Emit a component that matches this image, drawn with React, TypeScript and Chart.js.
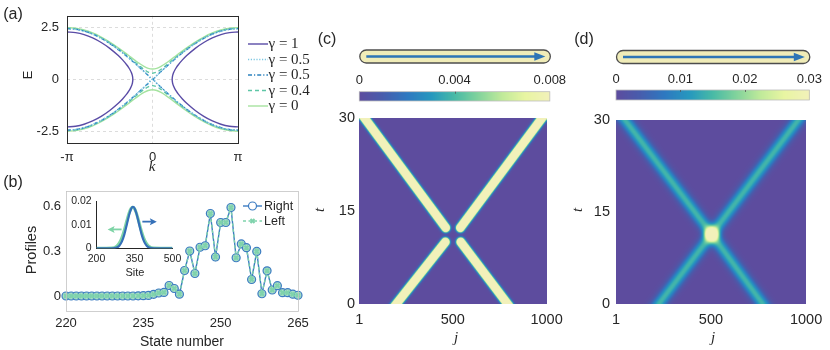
import React, { useEffect, useRef } from "react";
import { Chart, registerables } from "chart.js";
Chart.register(...registerables);

const SANS = "'Liberation Sans', Arial, Helvetica, sans-serif";
const SERIF = "'Liberation Serif', 'DejaVu Serif', 'Times New Roman', serif";
const INK = "#262626";
Chart.defaults.font.family = SANS;
Chart.defaults.color = INK;

// ---------------- Panel (a): band structure, k in units of pi ----------------
const K_HALF = [0, 0.05, 0.1, 0.15, 0.2, 0.25, 0.3, 0.4, 0.5, 0.6, 0.7, 0.8, 0.9, 1.0];
const E_G0 = [0.5, 0.536, 0.63, 0.76, 0.907, 1.062, 1.219, 1.524, 1.803, 2.044, 2.239, 2.383, 2.47, 2.5];
const E_G05 = [0, 0.192, 0.383, 0.572, 0.757, 0.937, 1.112, 1.44, 1.732, 1.982, 2.182, 2.33, 2.419, 2.449];
const E_G04 = [0.3, 0.356, 0.487, 0.646, 0.814, 0.984, 1.152, 1.471, 1.758, 2.004, 2.203, 2.349, 2.438, 2.468];
const K_G1 = [0.2301, 0.235, 0.24, 0.25, 0.26, 0.28, 0.3, 0.35, 0.4, 0.5, 0.6, 0.7, 0.8, 0.9, 1.0];
const E_G1 = [0, 0.176, 0.251, 0.359, 0.443, 0.581, 0.698, 0.942, 1.15, 1.5, 1.782, 2.003, 2.163, 2.259, 2.291];
const GAMMA_LABELS = ["γ = 1", "γ = 0.5", "γ = 0.5", "γ = 0.4", "γ = 0"];
const A_X_TICKS = [-1, 0, 1];
const A_X_LABELS = ["-π", "0", "π"];
const A_Y_TICKS = [-2.5, 0, 2.5];
const A_Y_LABELS = ["-2.5", "0", "2.5"];
const A_Y_LIMIT = 3.07;

const A_COLORS = ["#5A4CA6", "#7CC6E2", "#2E83BE", "#5EC6A6", "#A6E3A0"];
const A_DASHES = [[], [1.2, 1.6], [4, 2, 1.2, 2], [4, 3], []];

// ---------------- Panel (b): profiles ----------------
const STATE_NUMBER = [220, 221, 222, 223, 224, 225, 226, 227, 228, 229, 230, 231, 232, 233, 234, 235, 236, 237, 238, 239, 240, 241, 242, 243, 244, 245, 246, 247, 248, 249, 250, 251, 252, 253, 254, 255, 256, 257, 258, 259, 260, 261, 262, 263, 264, 265];
const PROFILE_RIGHT = [0, 0, 0, 0, 0, 0, 0, 0, 0, 0, 0, 0, 0, 0, 0.001, 0.002, 0.004, 0.011, 0.02, 0.024, 0.07, 0.05, 0.012, 0.17, 0.3, 0.15, 0.325, 0.335, 0.55, 0.26, 0.49, 0.49, 0.59, 0.255, 0.347, 0.322, 0.11, 0.297, 0.015, 0.168, 0.04, 0.069, 0.022, 0.022, 0.012, 0.005];
const PROFILE_LEFT = [0, 0, 0, 0, 0, 0, 0, 0, 0, 0, 0, 0, 0, 0, 0.001, 0.002, 0.004, 0.011, 0.02, 0.024, 0.07, 0.05, 0.012, 0.17, 0.3, 0.15, 0.325, 0.335, 0.55, 0.26, 0.49, 0.49, 0.59, 0.255, 0.347, 0.322, 0.11, 0.297, 0.015, 0.168, 0.04, 0.069, 0.022, 0.022, 0.012, 0.005];
const B_X_TICKS = [220, 235, 250, 265];
const B_Y_TICKS = [0, 0.3, 0.6];
const B_Y_LABELS = ["0", "0.3", "0.6"];
const B_SERIES = ["Right", "Left"];

// inset
const SITE_BLUE = [200, 260, 280, 290, 300, 310, 320, 330, 337, 344, 351, 358, 368, 378, 388, 398, 408, 428, 500];
const VAL_BLUE = [0, 0.00002, 0.00037, 0.00112, 0.00282, 0.0059, 0.0102, 0.01462, 0.0168, 0.0176, 0.0168, 0.01462, 0.0102, 0.0059, 0.00282, 0.00112, 0.00037, 0.00002, 0];
const SITE_GREEN = [200, 260, 280, 290, 300, 310, 320, 330, 336, 343, 350, 356, 366, 376, 386, 396, 406, 426, 500];
const VAL_GREEN = [0, 0.00011, 0.00092, 0.00218, 0.00443, 0.00778, 0.01177, 0.01536, 0.01678, 0.0174, 0.01678, 0.01536, 0.01177, 0.00778, 0.00443, 0.00218, 0.00092, 0.00011, 0];
const INSET_X_TICKS = [200, 350, 500];
const INSET_Y_TICKS = [0, 0.01, 0.02];
const INSET_Y_LABELS = ["0", "0.01", "0.02"];
const ARROW_FROM_SITE = [299, 381];
const ARROW_TO_SITE = [244, 438];
const ARROW_VALUE = [0.008, 0.0113];

// ---------------- Panels (c), (d): wave-packet tracks (j, t) ----------------
const J_TICKS = [1, 500, 1000];
const T_TICKS = [0, 15, 30];
const C_BEAM_J0 = [146, 842, 462, 540];
const C_BEAM_T0 = [-2, -2, 12.3, 12.3];
const C_BEAM_J1 = [460, 542, -20, 1025];
const C_BEAM_T1 = [10.0, 10.0, 32, 32];
const C_BEAM_AMP = [0.03, 0.03, 0.03, 0.03];
const C_BEAM_SIGMA = 12.5;
const C_CBAR_TICKS = [0, 0.004, 0.008];
const C_CBAR_LABELS = ["0", "0.004", "0.008"];

const D_BEAM_J0 = [179, 818, 504, 504];
const D_BEAM_T0 = [-2, -2, 11.3, 11.3];
const D_BEAM_J1 = [504, 504, -2, 1009];
const D_BEAM_T1 = [11.3, 11.3, 32, 32];
const D_BEAM_AMP = [0.0145, 0.0145, 0.0145, 0.0145];
const D_BEAM_SIGMA = 23;
const D_CBAR_TICKS = [0, 0.01, 0.02, 0.03];
const D_CBAR_LABELS = ["0", "0.01", "0.02", "0.03"];

const T_TO_J = 32.6;

const CMAP_POS = [0, 0.12, 0.25, 0.38, 0.5, 0.62, 0.75, 0.87, 1];
const CMAP_RGB = [
  [93, 76, 158], [72, 92, 172], [46, 120, 192], [38, 152, 190], [72, 186, 166],
  [128, 210, 156], [192, 234, 154], [232, 245, 162], [242, 241, 186],
];
function cmap(f: number): number[] {
  const v = Math.max(0, Math.min(1, f));
  for (let i = 1; i < CMAP_POS.length; i++) {
    if (v <= CMAP_POS[i]) {
      const u = (v - CMAP_POS[i - 1]) / (CMAP_POS[i] - CMAP_POS[i - 1]);
      const a = CMAP_RGB[i - 1], b = CMAP_RGB[i];
      return [a[0] + (b[0] - a[0]) * u, a[1] + (b[1] - a[1]) * u, a[2] + (b[2] - a[2]) * u];
    }
  }
  return CMAP_RGB[CMAP_RGB.length - 1];
}

type TextItem = { text: string; x: number; y: number; font: string; rot?: number; align?: CanvasTextAlign };

function textPlugin(items: TextItem[], offX: number, offY: number) {
  return {
    id: "texts",
    afterDraw(chart: any) {
      const ctx = chart.ctx as CanvasRenderingContext2D;
      for (const it of items) {
        ctx.save();
        ctx.font = it.font;
        ctx.fillStyle = INK;
        ctx.textAlign = it.align || "center";
        ctx.textBaseline = "middle";
        ctx.translate(it.x - offX, it.y - offY);
        if (it.rot) ctx.rotate(it.rot);
        ctx.fillText(it.text, 0, 0);
        ctx.restore();
      }
    },
  };
}

function boxPlugin(color: string, width: number) {
  return {
    id: "box",
    afterDatasetsDraw(chart: any) {
      const { left, right, top, bottom } = chart.chartArea;
      const ctx = chart.ctx as CanvasRenderingContext2D;
      ctx.save();
      ctx.strokeStyle = color;
      ctx.lineWidth = width;
      ctx.setLineDash([]);
      ctx.strokeRect(Math.round(left) + 0.5, Math.round(top) + 0.5, Math.round(right - left), Math.round(bottom - top));
      ctx.restore();
    },
  };
}

function axis(min: number, max: number, tickVals: number[], tickLabels: string[], fit: { width?: number; height?: number }, pad: number, fontSize: number, extra: any = {}) {
  return {
    type: "linear",
    min,
    max,
    afterBuildTicks: (s: any) => {
      s.ticks = tickVals.map((v) => ({ value: v }));
    },
    afterFit: (s: any) => {
      if (fit.width !== undefined) s.width = fit.width;
      if (fit.height !== undefined) s.height = fit.height;
    },
    ticks: {
      autoSkip: false,
      maxRotation: 0,
      minRotation: 0,
      padding: pad,
      color: INK,
      font: { size: fontSize, family: SANS },
      callback: (v: number) => {
        const i = tickVals.findIndex((t) => Math.abs(t - v) < 1e-9);
        return i >= 0 ? tickLabels[i] : "";
      },
    },
    grid: { display: false, drawTicks: false },
    border: { display: false },
    ...extra,
  };
}

const baseOptions = {
  responsive: false,
  animation: false,
  events: [],
  devicePixelRatio: 1,
  plugins: { legend: { display: false }, tooltip: { enabled: false } },
};

// ---------------- builders ----------------
function mirrorCurve(kHalf: number[], eHalf: number[], sign: number) {
  const pts: { x: number; y: number }[] = [];
  for (let i = kHalf.length - 1; i > 0; i--) pts.push({ x: -kHalf[i], y: sign * eHalf[i] });
  for (let i = 0; i < kHalf.length; i++) pts.push({ x: kHalf[i], y: sign * eHalf[i] });
  return pts;
}
function branchG1(side: number) {
  const pts: { x: number; y: number }[] = [];
  for (let i = K_G1.length - 1; i >= 0; i--) pts.push({ x: side * K_G1[i], y: E_G1[i] });
  for (let i = 1; i < K_G1.length; i++) pts.push({ x: side * K_G1[i], y: -E_G1[i] });
  return pts;
}

function buildA() {
  const curves = [
    { parts: [branchG1(1), branchG1(-1)], mono: false },
    { parts: [mirrorCurve(K_HALF, E_G05, 1), mirrorCurve(K_HALF, E_G05, -1)], mono: true },
    { parts: [mirrorCurve(K_HALF, E_G05, 1), mirrorCurve(K_HALF, E_G05, -1)], mono: true },
    { parts: [mirrorCurve(K_HALF, E_G04, 1), mirrorCurve(K_HALF, E_G04, -1)], mono: true },
    { parts: [mirrorCurve(K_HALF, E_G0, 1), mirrorCurve(K_HALF, E_G0, -1)], mono: true },
  ];
  const datasets: any[] = [];
  curves.forEach((c, i) =>
    c.parts.forEach((p) =>
      datasets.push({
        label: GAMMA_LABELS[i],
        data: p,
        showLine: true,
        borderColor: A_COLORS[i],
        borderDash: A_DASHES[i],
        borderWidth: 1.4,
        pointRadius: 0,
        tension: c.mono ? 0 : 0.35,
        cubicInterpolationMode: c.mono ? "monotone" : "default",
        order: i,
      })
    )
  );
  const legendPlugin = {
    id: "legendA",
    afterDraw(chart: any) {
      const ctx = chart.ctx as CanvasRenderingContext2D;
      GAMMA_LABELS.forEach((lab, i) => {
        const y = 44 + i * 15.5;
        ctx.save();
        ctx.strokeStyle = A_COLORS[i];
        ctx.lineWidth = 1.4;
        ctx.setLineDash(A_DASHES[i]);
        ctx.beginPath();
        ctx.moveTo(248, y);
        ctx.lineTo(268, y);
        ctx.stroke();
        ctx.setLineDash([]);
        ctx.fillStyle = INK;
        ctx.font = `15px ${SERIF}`;
        ctx.textAlign = "left";
        ctx.textBaseline = "middle";
        ctx.fillText(lab, 268.5, y + 0.5);
        ctx.restore();
      });
    },
  };
  const texts: TextItem[] = [
    { text: "(a)", x: 13, y: 15, font: `16px ${SANS}` },
    { text: "E", x: 28, y: 75, font: `13px ${SANS}`, rot: -Math.PI / 2 },
    { text: "k", x: 152, y: 167, font: `italic 15px ${SERIF}` },
  ];
  const gridExtra = { grid: { display: true, drawTicks: false, color: "#d4d4d4", lineWidth: 0.8 }, border: { display: false, dash: [3, 3] } };
  return {
    type: "scatter",
    data: { datasets },
    options: {
      ...baseOptions,
      layout: { padding: { left: 0, top: 8, right: 82, bottom: 0 } },
      scales: {
        x: axis(-1, 1, A_X_TICKS, A_X_LABELS, { height: 33 }, 6.2, 13, gridExtra),
        y: axis(-A_Y_LIMIT, A_Y_LIMIT, A_Y_TICKS, A_Y_LABELS, { width: 67 }, 8, 13, gridExtra),
      },
    },
    plugins: [boxPlugin("#2b2b2b", 1), legendPlugin, textPlugin(texts, 0, 0)],
  };
}

const B_BLUE = "#3C7CC2";
const B_GREEN = "#7FD3AC";

function buildB() {
  const right = STATE_NUMBER.map((s, i) => ({ x: s, y: PROFILE_RIGHT[i] }));
  const left = STATE_NUMBER.map((s, i) => ({ x: s, y: PROFILE_LEFT[i] }));
  const datasets = [
    {
      label: B_SERIES[0], data: right, showLine: true, borderColor: B_BLUE, borderWidth: 1.4,
      pointRadius: 4, pointBorderWidth: 1.2, pointBorderColor: B_BLUE, pointBackgroundColor: "#a9dcc6",
      clip: false, order: 2,
    },
    {
      label: B_SERIES[1], data: left, showLine: true, borderColor: B_GREEN, borderDash: [3, 2.5], borderWidth: 1.4,
      pointStyle: "crossRot", pointRadius: 2.8, pointBorderWidth: 2, pointBorderColor: B_GREEN,
      clip: false, order: 1,
    },
  ];
  const offY = 170;
  const legendPlugin = {
    id: "legendB",
    afterDraw(chart: any) {
      const ctx = chart.ctx as CanvasRenderingContext2D;
      const rows = [206 - offY, 221 - offY];
      ctx.save();
      ctx.strokeStyle = B_BLUE;
      ctx.lineWidth = 1.4;
      ctx.beginPath();
      ctx.moveTo(243, rows[0]);
      ctx.lineTo(262, rows[0]);
      ctx.stroke();
      ctx.fillStyle = "#ffffff";
      ctx.lineWidth = 1.2;
      ctx.beginPath();
      ctx.arc(252.5, rows[0], 4, 0, Math.PI * 2);
      ctx.fill();
      ctx.stroke();
      ctx.strokeStyle = B_GREEN;
      ctx.lineWidth = 1.4;
      ctx.setLineDash([3, 2.5]);
      ctx.beginPath();
      ctx.moveTo(243, rows[1]);
      ctx.lineTo(262, rows[1]);
      ctx.stroke();
      ctx.setLineDash([]);
      ctx.lineWidth = 2;
      ctx.beginPath();
      ctx.moveTo(250.5, rows[1] - 2);
      ctx.lineTo(254.5, rows[1] + 2);
      ctx.moveTo(254.5, rows[1] - 2);
      ctx.lineTo(250.5, rows[1] + 2);
      ctx.stroke();
      ctx.fillStyle = INK;
      ctx.font = `12.5px ${SANS}`;
      ctx.textAlign = "left";
      ctx.textBaseline = "middle";
      ctx.fillText(B_SERIES[0], 264, rows[0] + 0.5);
      ctx.fillText(B_SERIES[1], 264, rows[1] + 0.5);
      ctx.restore();
    },
  };
  const texts: TextItem[] = [
    { text: "(b)", x: 13, y: 183, font: `16px ${SANS}` },
    { text: "Profiles", x: 32, y: 250, font: `14.5px ${SANS}`, rot: -Math.PI / 2 },
    { text: "State number", x: 182, y: 342, font: `14px ${SANS}` },
  ];
  return {
    type: "scatter",
    data: { datasets },
    options: {
      ...baseOptions,
      layout: { padding: { left: 0, top: 21, right: 22, bottom: 0 } },
      scales: {
        x: axis(220, 265, B_X_TICKS, B_X_TICKS.map(String), { height: 39 }, 4.2, 13),
        y: axis(-0.1, 0.7, B_Y_TICKS, B_Y_LABELS, { width: 66 }, 5, 13),
      },
    },
    plugins: [boxPlugin("#c4c4c4", 0.8), legendPlugin, textPlugin(texts, 0, offY)],
  };
}

const INSET_BLUE = "#3570B8";
const INSET_GREEN = "#7ED4A6";

function buildInset() {
  const datasets = [
    {
      data: SITE_BLUE.map((s, i) => ({ x: s, y: VAL_BLUE[i] })), showLine: true, borderColor: INSET_BLUE,
      borderWidth: 2.2, pointRadius: 0, cubicInterpolationMode: "monotone", order: 1,
    },
    {
      data: SITE_GREEN.map((s, i) => ({ x: s, y: VAL_GREEN[i] })), showLine: true, borderColor: INSET_GREEN,
      borderWidth: 3, pointRadius: 0, cubicInterpolationMode: "monotone", order: 2,
    },
  ];
  const arrowColors = [INSET_GREEN, INSET_BLUE];
  const arrowPlugin = {
    id: "arrows",
    afterDatasetsDraw(chart: any) {
      const ctx = chart.ctx as CanvasRenderingContext2D;
      const { x, y } = chart.scales;
      for (let i = 0; i < ARROW_FROM_SITE.length; i++) {
        const x0 = x.getPixelForValue(ARROW_FROM_SITE[i]);
        const x1 = x.getPixelForValue(ARROW_TO_SITE[i]);
        const yy = y.getPixelForValue(ARROW_VALUE[i]);
        const dir = Math.sign(x1 - x0);
        ctx.save();
        ctx.strokeStyle = arrowColors[i];
        ctx.fillStyle = arrowColors[i];
        ctx.lineWidth = 1.8;
        ctx.beginPath();
        ctx.moveTo(x0, yy);
        ctx.lineTo(x1 - dir * 5, yy);
        ctx.stroke();
        ctx.beginPath();
        ctx.moveTo(x1, yy);
        ctx.lineTo(x1 - dir * 7, yy - 3.5);
        ctx.lineTo(x1 - dir * 5.5, yy);
        ctx.lineTo(x1 - dir * 7, yy + 3.5);
        ctx.closePath();
        ctx.fill();
        ctx.restore();
      }
    },
  };
  const texts: TextItem[] = [{ text: "Site", x: 135, y: 273, font: `11px ${SANS}` }];
  const borderExtra = { border: { display: true, color: INK, width: 1 } };
  return {
    type: "scatter",
    data: { datasets },
    options: {
      ...baseOptions,
      layout: { padding: { left: 0, top: 8.3, right: 17.5, bottom: 0 } },
      scales: {
        x: axis(200, 500, INSET_X_TICKS, INSET_X_TICKS.map(String), { height: 36.7 }, 4.7, 10.5, borderExtra),
        y: axis(0, 0.02, INSET_Y_TICKS, INSET_Y_LABELS, { width: 36.5 }, 4.8, 10.5, borderExtra),
      },
    },
    plugins: [arrowPlugin, textPlugin(texts, 60, 190)],
  };
}

function segDist2(j: number, t: number, j0: number, t0: number, j1: number, t1: number) {
  const ax = j0, ay = t0 * T_TO_J, bx = j1, by = t1 * T_TO_J;
  const px = j, py = t * T_TO_J;
  const dx = bx - ax, dy = by - ay;
  let u = ((px - ax) * dx + (py - ay) * dy) / (dx * dx + dy * dy);
  u = Math.max(0, Math.min(1, u));
  const qx = ax + u * dx - px, qy = ay + u * dy - py;
  return qx * qx + qy * qy;
}

function renderField(j0: number[], t0: number[], j1: number[], t1: number[], amp: number[], sigma: number, cmax: number) {
  const nx = 400, ny = 240;
  const jMin = J_TICKS[0], jMax = J_TICKS[J_TICKS.length - 1];
  const tMin = T_TICKS[0], tMax = T_TICKS[T_TICKS.length - 1];
  const off = document.createElement("canvas");
  off.width = nx;
  off.height = ny;
  const octx = off.getContext("2d")!;
  const img = octx.createImageData(nx, ny);
  const s2 = 2 * sigma * sigma;
  for (let r = 0; r < ny; r++) {
    const t = tMax - ((r + 0.5) / ny) * (tMax - tMin);
    for (let c = 0; c < nx; c++) {
      const j = jMin + ((c + 0.5) / nx) * (jMax - jMin);
      let v = 0;
      for (let s = 0; s < j0.length; s++) v += amp[s] * Math.exp(-segDist2(j, t, j0[s], t0[s], j1[s], t1[s]) / s2);
      const col = cmap(v / cmax);
      const k = (r * nx + c) * 4;
      img.data[k] = col[0];
      img.data[k + 1] = col[1];
      img.data[k + 2] = col[2];
      img.data[k + 3] = 255;
    }
  }
  octx.putImageData(img, 0, 0);
  return off;
}

function buildHeat(img: HTMLCanvasElement, offX: number, offY: number, area: { left: number; top: number; right: number; bottom: number }, panelW: number, panelH: number, yPad: number, xPad: number, texts: TextItem[]) {
  const heatPlugin = {
    id: "heat",
    beforeDatasetsDraw(chart: any) {
      const { x, y } = chart.scales;
      const ctx = chart.ctx as CanvasRenderingContext2D;
      const x0 = x.getPixelForValue(J_TICKS[0]);
      const x1 = x.getPixelForValue(J_TICKS[J_TICKS.length - 1]);
      const y0 = y.getPixelForValue(T_TICKS[T_TICKS.length - 1]);
      const y1 = y.getPixelForValue(T_TICKS[0]);
      ctx.save();
      ctx.imageSmoothingEnabled = true;
      (ctx as any).imageSmoothingQuality = "high";
      ctx.drawImage(img, x0, y0, x1 - x0, y1 - y0);
      ctx.restore();
    },
  };
  const left = area.left - offX;
  const top = area.top - offY;
  const right = panelW - (area.right - offX);
  const xh = panelH - (area.bottom - offY);
  return {
    type: "scatter",
    data: { datasets: [] },
    options: {
      ...baseOptions,
      layout: { padding: { left: 0, top, right, bottom: 0 } },
      scales: {
        x: axis(J_TICKS[0], J_TICKS[J_TICKS.length - 1], J_TICKS, J_TICKS.map(String), { height: xh }, xPad, 14.5),
        y: axis(T_TICKS[0], T_TICKS[T_TICKS.length - 1], T_TICKS, T_TICKS.map(String), { width: left }, yPad, 14.5),
      },
    },
    plugins: [heatPlugin, textPlugin(texts, offX, offY)],
  };
}

function buildColorbar(cTicks: number[], cLabels: string[], offX: number, offY: number, area: { left: number; top: number; right: number; bottom: number }, pillTop: number, panelW: number, panelH: number, pad: number, texts: TextItem[]) {
  const cmax = cTicks[cTicks.length - 1];
  const cbarPlugin = {
    id: "cbar",
    beforeDatasetsDraw(chart: any) {
      const xs = chart.scales.x;
      const ctx = chart.ctx as CanvasRenderingContext2D;
      const { left, right, top, bottom } = chart.chartArea;
      ctx.save();
      for (let px = Math.floor(left); px < Math.ceil(right); px++) {
        const v = xs.getValueForPixel(px + 0.5);
        const c = cmap(v / cmax);
        ctx.fillStyle = `rgb(${Math.round(c[0])},${Math.round(c[1])},${Math.round(c[2])})`;
        ctx.fillRect(px, top, 1, bottom - top);
      }
      ctx.strokeStyle = "#bdbdbd";
      ctx.lineWidth = 0.8;
      ctx.strokeRect(left, top, right - left, bottom - top);
      ctx.strokeStyle = "#555555";
      ctx.lineWidth = 0.8;
      for (let i = 1; i < cTicks.length - 1; i++) {
        const px = Math.round(xs.getPixelForValue(cTicks[i])) + 0.5;
        ctx.beginPath();
        ctx.moveTo(px, top);
        ctx.lineTo(px, top + 2);
        ctx.stroke();
      }
      const pt = pillTop - offY;
      const ph = 13;
      const pl = left + 0.5, pr = right + 0.5;
      const rr = ph / 2;
      ctx.beginPath();
      ctx.moveTo(pl + rr, pt);
      ctx.lineTo(pr - rr, pt);
      ctx.arc(pr - rr, pt + rr, rr, -Math.PI / 2, Math.PI / 2);
      ctx.lineTo(pl + rr, pt + ph);
      ctx.arc(pl + rr, pt + rr, rr, Math.PI / 2, (3 * Math.PI) / 2);
      ctx.closePath();
      ctx.fillStyle = "#F0ECB8";
      ctx.fill();
      ctx.strokeStyle = "#4d4d4d";
      ctx.lineWidth = 1.3;
      ctx.stroke();
      const ay = pt + ph / 2;
      const ax0 = pl + 6.5, ax1 = pr - 5;
      ctx.strokeStyle = "#2E75B6";
      ctx.fillStyle = "#2E75B6";
      ctx.lineWidth = 2.6;
      ctx.beginPath();
      ctx.moveTo(ax0, ay);
      ctx.lineTo(ax1 - 9, ay);
      ctx.stroke();
      ctx.beginPath();
      ctx.moveTo(ax1, ay);
      ctx.lineTo(ax1 - 11, ay - 4.3);
      ctx.lineTo(ax1 - 11, ay + 4.3);
      ctx.closePath();
      ctx.fill();
      ctx.restore();
    },
  };
  const left = area.left - offX;
  const xh = area.top - offY;
  const right = panelW - (area.right - offX);
  const bottom = panelH - (area.bottom - offY);
  return {
    type: "scatter",
    data: { datasets: [] },
    options: {
      ...baseOptions,
      layout: { padding: { left, top: 0, right, bottom } },
      scales: {
        x: axis(0, cmax, cTicks, cLabels, { height: xh }, pad, 13, { position: "top" }),
        y: { type: "linear", display: false, min: 0, max: 1 },
      },
    },
    plugins: [cbarPlugin, textPlugin(texts, offX, offY)],
  };
}

function ChartBox({ left, top, width, height, build }: { left: number; top: number; width: number; height: number; build: () => any }) {
  const ref = useRef<HTMLCanvasElement>(null);
  useEffect(() => {
    const chart = new Chart(ref.current as HTMLCanvasElement, build());
    return () => chart.destroy();
  }, []);
  return (
    <div style={{ position: "absolute", left, top, width, height }}>
      <canvas ref={ref} width={width} height={height} style={{ width, height, display: "block" }} />
    </div>
  );
}

export default function App() {
  const buildC = () =>
    buildHeat(
      renderField(C_BEAM_J0, C_BEAM_T0, C_BEAM_J1, C_BEAM_T1, C_BEAM_AMP, C_BEAM_SIGMA, C_CBAR_TICKS[C_CBAR_TICKS.length - 1]),
      300, 105, { left: 359.3, top: 115, right: 552.3, bottom: 304 }, 270, 245, 4.3, 7.3,
      [
        { text: "t", x: 320, y: 210, font: `italic 15px ${SERIF}`, rot: -Math.PI / 2 },
        { text: "j", x: 456, y: 338, font: `italic 15px ${SERIF}` },
      ]
    );
  const buildD = () =>
    buildHeat(
      renderField(D_BEAM_J0, D_BEAM_T0, D_BEAM_J1, D_BEAM_T1, D_BEAM_AMP, D_BEAM_SIGMA, D_CBAR_TICKS[D_CBAR_TICKS.length - 1]),
      560, 105, { left: 616, top: 114, right: 809.3, bottom: 303.5 }, 270, 245, 6, 7.8,
      [
        { text: "t", x: 578, y: 210, font: `italic 15px ${SERIF}`, rot: -Math.PI / 2 },
        { text: "j", x: 713, y: 338, font: `italic 15px ${SERIF}` },
      ]
    );
  const buildCbarC = () =>
    buildColorbar(C_CBAR_TICKS, C_CBAR_LABELS, 300, 20, { left: 359.3, top: 91.7, right: 552.3, bottom: 101 }, 50, 270, 86, 3.9, [
      { text: "(c)", x: 327, y: 40, font: `16px ${SANS}` },
    ]);
  const buildCbarD = () =>
    buildColorbar(D_CBAR_TICKS, D_CBAR_LABELS, 560, 20, { left: 616, top: 90, right: 809.3, bottom: 100 }, 50.5, 270, 86, 3.2, [
      { text: "(d)", x: 584, y: 40, font: `16px ${SANS}` },
    ]);
  return (
    <div style={{ position: "absolute", left: 0, top: 0, width: 830, height: 350, background: "#ffffff", overflow: "hidden" }}>
      <ChartBox left={0} top={0} width={320} height={176} build={buildA} />
      <ChartBox left={0} top={170} width={320} height={180} build={buildB} />
      <ChartBox left={60} top={190} width={130} height={95} build={buildInset} />
      <ChartBox left={300} top={20} width={270} height={86} build={buildCbarC} />
      <ChartBox left={560} top={20} width={270} height={86} build={buildCbarD} />
      <ChartBox left={300} top={105} width={270} height={245} build={buildC} />
      <ChartBox left={560} top={105} width={270} height={245} build={buildD} />
    </div>
  );
}
